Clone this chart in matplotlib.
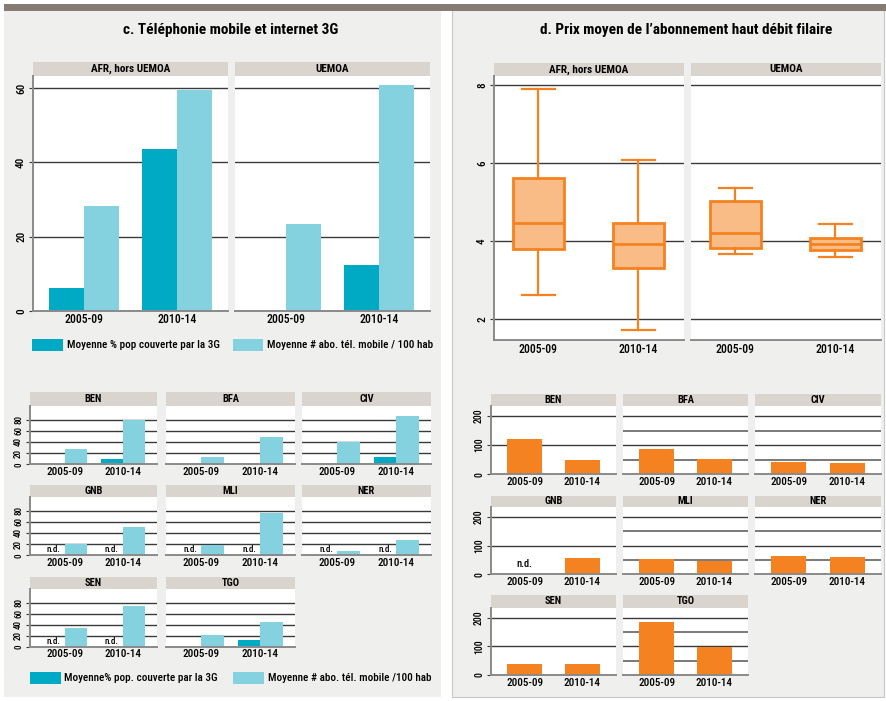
import matplotlib
matplotlib.use("Agg")
import matplotlib.pyplot as plt
import matplotlib.font_manager as fm
from matplotlib.patches import Rectangle
import numpy as np

# ---------------- data ----------------
periods = ["2005-09", "2010-14"]
top_groups = ["AFR, hors UEMOA", "UEMOA"]
series_top = ["Moyenne % pop couverte par la 3G", "Moyenne # abo. tél. mobile / 100 hab"]
series_bottom = ["Moyenne% pop. couverte par la 3G", "Moyenne # abo. tél. mobile /100 hab"]
pop3g_top = [[6.1, 43.6], [0.0, 12.3]]
abo_top = [[28.2, 59.5], [23.4, 60.8]]

countries = ["BEN", "BFA", "CIV", "GNB", "MLI", "NER", "SEN", "TGO"]
# None = n.d.
pop3g = [[0, 10.0], [0, 0], [0, 13.7], [None, None], [None, None], [None, None], [None, None], [0, 11.9]]
abo = [[27.4, 80.0], [13.7, 49.5], [40.5, 87.0], [20.3, 50.7], [18.5, 75.8], [7.7, 27.4], [33.2, 72.9], [21.3, 43.9]]

# box stats: whislo, q1, med, q3, whishi
box_afr = [[2.61, 3.80, 4.47, 5.61, 7.89], [1.72, 3.30, 3.91, 4.46, 6.08]]
box_uemoa = [[3.67, 3.83, 4.21, 5.03, 5.36], [3.60, 3.77, 3.91, 4.08, 4.44]]

prix = [[121.8, 49.4], [87.4, 52.9], [42.5, 39.0], [None, 57.0], [53.4, 47.5], [64.0, 60.4], [38.0, 38.0], [183.8, 99.5]]

title_c = "c. Téléphonie mobile et internet 3G"
title_d = "d. Prix moyen de l’abonnement haut débit filaire"

# ---------------- fonts ----------------
all_names = {f.name for f in fm.fontManager.ttflist}
FONT = None
STRETCH = "normal"
for cand in ["Roboto Condensed", "Open Sans Condensed", "Noto Sans Condensed", "Liberation Sans Narrow"]:
    if cand in all_names:
        FONT = cand
        break
if FONT is None:
    FONT = "DejaVu Sans"
    STRETCH = "condensed"


def fp(size, weight="bold"):
    return fm.FontProperties(family=FONT, size=size, weight=weight, stretch=STRETCH)


# ---------------- colours ----------------
BG = "#EFEFED"
HEAD = "#DAD4CF"
BAR_TOP = "#877C73"
DARK = "#00AAC5"
LIGHT = "#84D1DF"
ORANGE = "#F58220"
BOX_FILL = "#F9BC86"
GRID = "#3A3A3A"
SPINE = "#8A8A8A"

W, H = 887, 701
fig = plt.figure(figsize=(W / 100, H / 100), dpi=100)
fig.patch.set_facecolor("white")


def rect_px(x0, y0, x1, y1, color, z=-1, **kw):
    r = Rectangle((x0 / W, 1 - y1 / H), (x1 - x0) / W, (y1 - y0) / H,
                  transform=fig.transFigure, facecolor=color, zorder=z, **kw)
    fig.patches.append(r)


def ax_px(x0, y0, x1, y1):
    return fig.add_axes([x0 / W, 1 - y1 / H, (x1 - x0) / W, (y1 - y0) / H])


# backgrounds
rect_px(4, 10, 441, 697, BG, edgecolor="none")
rect_px(452, 10, 884, 697, BG, edgecolor="#C8C8C8", linewidth=0.8)
rect_px(4, 4, 887, 11, BAR_TOP, edgecolor="none")

fig.text(231 / W, 1 - 30 / H, title_c, ha="center", va="center", fontproperties=fp(11))
fig.text(686 / W, 1 - 30 / H, title_d, ha="center", va="center", fontproperties=fp(11))


def header(x0, y0, x1, y1, label, size):
    hx = ax_px(x0, y0, x1, y1)
    hx.set_facecolor(HEAD)
    hx.set_xticks([])
    hx.set_yticks([])
    for s in hx.spines.values():
        s.set_visible(False)
    hx.text(0.5, 0.5, label, ha="center", va="center", transform=hx.transAxes,
            fontproperties=fp(size))


def style_axes(ax, first, ylabsize, xlabsize, grid_vals, ylim, xlim, yticks, minor_vals=None):
    ax.set_facecolor("white")
    ax.set_ylim(*ylim)
    ax.set_xlim(*xlim)
    for v in grid_vals:
        ax.axhline(v, color=GRID, lw=1.0, zorder=1)
    if minor_vals:
        for v in minor_vals:
            ax.axhline(v, color="#6E6E6E", lw=1.3, zorder=1)
    ax.spines["top"].set_visible(False)
    ax.spines["right"].set_visible(False)
    ax.spines["bottom"].set_color(SPINE)
    ax.spines["bottom"].set_linewidth(1.4)
    ax.set_xticks([1, 2])
    ax.set_xticklabels(periods, fontproperties=fp(xlabsize, "medium"))
    ax.tick_params(axis="x", length=0, pad=2)
    if first:
        ax.spines["left"].set_color(SPINE)
        ax.spines["left"].set_linewidth(1.4)
        ax.set_yticks(yticks)
        ax.set_yticklabels([str(t) for t in yticks], rotation=90, va="center",
                           fontproperties=fp(ylabsize, "medium"))
        ax.tick_params(axis="y", length=3, color=GRID, pad=2)
    else:
        ax.spines["left"].set_visible(False)
        ax.set_yticks([])


# ---------------- c. top panels ----------------
bw = 0.38
top_boxes = [(33, 76, 228, 310.7), (235, 76, 430, 310.7)]
for i, (x0, y0, x1, y1) in enumerate(top_boxes):
    header(x0, 62, x1, 76, top_groups[i], 8)
    ax = ax_px(x0, y0, x1, y1)
    style_axes(ax, i == 0, 8, 8.5, [20, 40, 60], (0, 63.3), (0.45, 2.55), [0, 20, 40, 60])
    pos = np.array([1, 2])
    ax.bar(pos - bw / 2, pop3g_top[i], bw, color=DARK, zorder=2)
    ax.bar(pos + bw / 2, abo_top[i], bw, color=LIGHT, zorder=2)

# legend top
rect_px(32, 339, 63, 351, DARK, z=1)
fig.text(67 / W, 1 - 345 / H, series_top[0], va="center", ha="left", fontproperties=fp(8, "medium"))
rect_px(233, 339, 263, 351, LIGHT, z=1)
fig.text(267 / W, 1 - 345 / H, series_top[1], va="center", ha="left", fontproperties=fp(8, "medium"))

# ---------------- c. small multiples ----------------
cols_l = [(30, 157), (166, 295), (302, 431)]
rows_l = [(392, 406, 464.3), (485, 497, 555.3), (577, 589, 646.7)]
for k, c in enumerate(countries):
    r, col = divmod(k, 3)
    x0, x1 = cols_l[col]
    hy0, py0, py1 = rows_l[r]
    header(x0, hy0, x1, py0, c, 7.5)
    ax = ax_px(x0, py0, x1, py1)
    style_axes(ax, col == 0, 6.5, 8, [20, 40, 60, 80], (0, 104.5), (0.4, 2.59), [0, 20, 40, 60, 80])
    pos = np.array([1, 2])
    for j in range(2):
        v = pop3g[k][j]
        if v is None:
            ax.text(pos[j] - bw / 2, 9.5, "n.d.", ha="center", va="center", fontproperties=fp(6.5, "medium"))
        else:
            ax.bar(pos[j] - bw / 2, v, bw, color=DARK, zorder=2)
        ax.bar(pos[j] + bw / 2, abo[k][j], bw, color=LIGHT, zorder=2)

rect_px(30, 672, 61, 684, DARK, z=1)
fig.text(64 / W, 1 - 678 / H, series_bottom[0], va="center", ha="left", fontproperties=fp(8, "medium"))
rect_px(233, 672, 264, 684, LIGHT, z=1)
fig.text(268 / W, 1 - 678 / H, series_bottom[1], va="center", ha="left", fontproperties=fp(8, "medium"))

# ---------------- d. box panels ----------------
box_data = [box_afr, box_uemoa]
box_px = [(494, 76, 684, 340), (691, 76, 881, 340)]
for i, (x0, y0, x1, y1) in enumerate(box_px):
    header(x0, 63, x1, 76, top_groups[i], 8)
    ax = ax_px(x0, y0, x1, y1)
    style_axes(ax, i == 0, 8, 8.5, [2, 4, 6, 8], (1.46, 8.23), (0.555, 2.455), [2, 4, 6, 8])
    stats = [dict(whislo=s[0], q1=s[1], med=s[2], q3=s[3], whishi=s[4], fliers=[]) for s in box_data[i]]
    ax.bxp(stats, positions=[1, 2], widths=0.51, patch_artist=True, showfliers=False,
           capwidths=0.33,
           boxprops=dict(facecolor=BOX_FILL, edgecolor=ORANGE, linewidth=2),
           medianprops=dict(color=ORANGE, linewidth=2),
           whiskerprops=dict(color=ORANGE, linewidth=1.6),
           capprops=dict(color=ORANGE, linewidth=1.6), zorder=3)
    ax.set_xlim(0.555, 2.455)
    ax.set_xticks([1, 2])
    ax.set_xticklabels(periods, fontproperties=fp(8.5, "medium"))

# ---------------- d. small multiples ----------------
cols_r = [(491, 616), (623, 748), (755, 881)]
rows_r = [(394, 406, 474.3), (496, 507, 574.3), (595, 608, 675)]
for k, c in enumerate(countries):
    r, col = divmod(k, 3)
    x0, x1 = cols_r[col]
    hy0, py0, py1 = rows_r[r]
    header(x0, hy0, x1, py0, c, 7.5)
    ax = ax_px(x0, py0, x1, py1)
    minor = None if col == 0 else [50, 150]
    style_axes(ax, col == 0, 7, 8, [100, 200], (0, 234), (0.42, 2.58), [0, 100, 200], minor)
    for j in range(2):
        v = prix[k][j]
        if v is None:
            ax.text(j + 1, 36, "n.d.", ha="center", va="center", fontproperties=fp(7.5, "medium"))
        else:
            ax.bar(j + 1, v, 0.6, color=ORANGE, zorder=2)

fig.savefig("out.png", dpi=100, facecolor=fig.get_facecolor())
